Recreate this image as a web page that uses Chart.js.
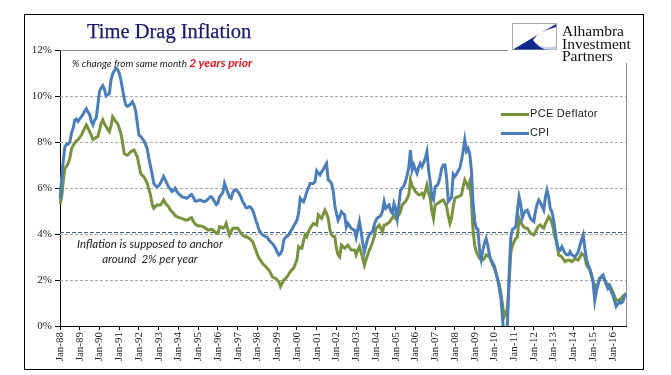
<!DOCTYPE html>
<html><head><meta charset="utf-8">
<script src="https://cdn.jsdelivr.net/npm/chart.js@4"></script>
<style>
html,body{margin:0;padding:0;background:#fff;}
#wrap{position:relative;width:671px;height:375px;overflow:hidden;}
#frame{position:absolute;left:24px;top:14px;width:618px;height:354px;border:1px solid #000;}
canvas{position:absolute;left:0;top:0;}
.t{position:absolute;white-space:nowrap;}
#title{left:87px;top:20px;font:20.5px "Liberation Serif",serif;color:#1a1a6e;-webkit-text-stroke:0.25px #1a1a6e;}
#sub{left:72px;top:55px;font:italic 10px Lato,sans-serif;color:#222;}
#sub b{color:#e0141e;font-size:12px;font-weight:bold;}
#note{left:58px;top:236px;width:184px;text-align:center;font:italic 11.5px Lato,sans-serif;color:#222;line-height:15px;}
.lg{position:absolute;font:11px "Liberation Sans",Arial,sans-serif;color:#222;letter-spacing:0.3px;}
.lgl{position:absolute;width:28px;height:3px;}
#logo{position:absolute;left:508px;top:19px;width:132px;height:44px;background:#fff;}
#logo svg{position:absolute;left:4px;top:4px;}
#logotxt{position:absolute;left:54px;top:6px;font:15.5px "Liberation Serif",serif;line-height:12.5px;color:#111;}
</style></head>
<body><div id="wrap">
<div id="frame"></div>
<canvas id="c" width="671" height="375"></canvas>
<div class="t" id="title">Time Drag Inflation</div>
<div class="t" id="sub">% change from same month <b>2 years prior</b></div>
<div class="t" id="note">Inflation is supposed to anchor<br>around&nbsp; 2% per year</div>
<div class="lgl" style="left:501px;top:113px;background:#77933c"></div>
<div class="lg" style="left:530px;top:107px">PCE Deflator</div>
<div class="lgl" style="left:501px;top:132px;background:#4a7ebb"></div>
<div class="lg" style="left:530px;top:126px">CPI</div>
<div id="logo">
<svg width="46" height="28" viewBox="0 0 46 28">
<rect x="0.5" y="0.5" width="44" height="26" fill="#fff" stroke="#aaa"/>
<path d="M1,26.5 L44,1 L44,4 Q26,9 21,17 Q25,24 38,26.5 Z" fill="#0d2a8c"/>
<path d="M24,22 Q33,26 44,23 L44,26.5 L33,26.5 Z" fill="#c5d2ee"/>
</svg>
<div id="logotxt">Alhambra<br>Investment<br>Partners</div>
</div>
</div>
<script>
// ---- data ----
const startYear = 1988;
const monthCount = 345; // Jan-88 .. Sep-16
const monthNames = ['Jan','Feb','Mar','Apr','May','Jun','Jul','Aug','Sep','Oct','Nov','Dec'];
const yTicks = [0, 2, 4, 6, 8, 10, 12];
const anchorLevel = 4.08;

const cpi = [
5.5,6.4,7.2,7.8,7.9,7.9,8.0,8.4,8.6,8.95,9.0,8.9,
9.0,9.1,9.2,9.35,9.45,9.3,9.2,8.9,8.75,8.95,9.05,9.6,
10.2,10.35,10.45,10.3,10.0,10.05,10.1,10.7,10.95,11.1,11.2,11.15,
11.0,10.7,10.3,9.9,9.6,9.55,9.6,9.65,9.75,9.6,9.35,8.8,
8.3,8.25,8.15,8.05,7.9,7.7,7.3,6.95,6.6,6.2,6.1,6.05,
6.1,6.2,6.35,6.5,6.35,6.2,6.05,5.95,5.85,5.9,5.99,5.85,
5.75,5.7,5.62,5.6,5.58,5.55,5.6,5.68,5.72,5.6,5.45,5.43,
5.45,5.48,5.45,5.42,5.41,5.45,5.52,5.6,5.62,5.52,5.4,5.28,
5.35,5.62,5.7,5.8,6.2,6.0,5.8,5.6,5.55,5.8,5.91,5.92,
5.85,5.75,5.6,5.41,5.3,5.15,5.14,5.19,5.15,5.05,4.85,4.6,
4.4,4.17,4.05,3.97,3.92,3.88,3.85,3.74,3.65,3.59,3.5,3.38,
3.2,3.09,3.15,3.3,3.74,3.85,3.9,3.96,4.1,4.2,4.35,4.46,
4.6,4.9,5.55,5.45,5.4,5.6,5.84,6.0,6.2,6.2,6.2,6.28,
6.75,6.65,6.57,6.7,6.8,6.95,7.07,6.35,6.3,6.2,5.9,5.25,
4.9,4.6,4.75,4.97,4.9,4.83,4.3,4.46,4.35,4.25,4.2,4.17,
3.85,4.2,4.54,4.1,3.6,3.23,3.52,3.8,3.96,4.05,4.1,4.4,
4.6,4.7,4.75,4.8,5.0,5.41,5.12,5.2,5.26,5.0,4.9,5.33,
5.12,4.68,5.3,5.91,6.0,6.1,6.28,6.57,6.9,7.65,6.78,7.0,
6.8,6.64,6.9,7.07,6.93,7.1,7.29,7.58,6.8,6.28,5.6,5.48,
6.06,6.1,6.2,6.5,6.86,7.0,7.0,6.42,5.41,5.5,5.6,6.6,
6.5,6.6,6.75,6.86,7.2,7.6,8.09,7.6,7.72,7.5,6.8,5.4,
4.6,4.25,4.2,3.3,2.9,3.3,3.6,3.8,3.5,3.1,2.85,2.75,
2.6,2.3,2.0,1.64,1.2,0.3,-0.6,-0.8,0.2,2.3,3.85,4.2,
4.25,4.32,5.0,5.62,5.3,4.7,4.9,5.0,5.04,4.85,4.68,4.6,
4.54,5.0,5.3,5.48,5.35,5.2,5.04,5.6,5.91,5.6,5.1,4.97,
4.6,4.1,3.5,3.35,3.3,3.45,3.3,3.16,3.1,3.09,3.23,3.1,
3.05,3.01,3.1,3.23,3.5,3.75,3.96,3.38,2.9,2.65,2.5,2.25,
1.9,1.1,1.5,1.8,2.07,2.15,2.22,2.0,1.8,1.64,1.75,1.5,
1.35,1.1,0.85,0.95,1.06,1.0,1.05,1.28,1.42
];

const pce = [
5.3,5.6,6.3,6.85,6.95,7.07,7.3,7.7,7.85,7.95,8.05,8.1,
8.2,8.3,8.45,8.6,8.74,8.6,8.45,8.3,8.1,8.15,8.2,8.23,
8.5,8.8,8.96,8.8,8.67,8.55,8.45,8.7,9.1,9.0,8.88,8.8,
8.6,8.38,8.0,7.5,7.45,7.43,7.5,7.58,7.62,7.65,7.5,7.36,
7.0,6.64,6.55,6.49,6.35,6.2,5.95,5.7,5.3,5.12,5.2,5.26,
5.26,5.26,5.35,5.48,5.35,5.25,5.19,5.05,4.97,4.9,4.8,4.75,
4.72,4.7,4.68,4.65,4.62,4.6,4.62,4.68,4.71,4.55,4.45,4.39,
4.35,4.36,4.34,4.32,4.28,4.22,4.17,4.18,4.2,4.17,4.1,4.05,
4.03,4.32,4.3,4.25,4.3,4.46,4.2,3.96,4.1,4.25,4.25,4.26,
4.25,4.15,4.03,3.95,3.9,3.88,3.85,3.81,3.75,3.67,3.5,3.3,
3.1,2.94,2.85,2.72,2.65,2.58,2.5,2.43,2.3,2.14,2.1,2.07,
2.0,1.93,1.71,1.85,2.0,2.05,2.14,2.25,2.36,2.45,2.51,2.7,
2.87,3.45,3.4,3.38,3.7,3.96,3.88,4.1,4.25,4.35,4.46,4.42,
4.39,4.83,4.75,4.68,4.85,5.04,4.9,4.68,4.2,3.96,3.9,3.88,
3.38,3.1,3.01,3.52,3.45,3.38,3.45,3.52,3.4,3.3,3.3,3.3,
3.09,3.3,3.45,3.2,2.94,2.65,2.9,3.09,3.3,3.45,3.65,3.88,
4.25,4.3,4.39,4.25,4.1,4.39,4.4,4.46,4.5,4.6,4.7,4.83,
4.68,4.75,4.83,5.0,5.26,5.35,5.41,5.55,5.7,6.35,6.1,5.99,
5.84,5.78,5.7,5.72,5.77,5.62,5.85,6.13,5.8,5.55,5.0,4.68,
5.26,5.3,5.35,5.41,5.45,5.48,5.35,5.19,4.8,4.46,4.7,5.2,
5.55,5.6,5.62,5.65,5.7,6.06,6.35,6.2,6.06,6.28,5.5,4.2,
3.52,3.23,3.1,2.94,2.9,2.87,2.95,3.09,3.05,3.01,2.85,2.65,
2.51,2.3,2.07,1.8,1.4,0.9,0.41,0.55,0.77,1.93,3.2,3.5,
3.67,3.8,3.88,4.68,4.5,4.39,4.3,4.25,4.25,4.15,4.03,4.0,
3.96,4.1,4.25,4.35,4.39,4.3,4.25,4.45,4.6,4.75,4.65,4.5,
4.17,3.8,3.67,3.09,3.05,3.01,2.9,2.8,2.85,2.87,2.85,2.8,
2.85,2.94,2.9,2.87,3.0,3.16,3.1,3.01,2.65,2.55,2.43,2.2,
1.95,1.78,1.64,1.85,2.07,2.1,2.14,2.0,1.86,1.82,1.78,1.65,
1.49,1.3,1.13,1.12,1.13,1.2,1.28,1.35,1.42
];

const categories = [];
for (let i = 0; i < monthCount; i++) {
  const y = startYear + Math.floor(i / 12);
  categories.push(monthNames[i % 12] + '-' + String(y).slice(2));
}

const gridPlugin = {
  id: 'gridPlugin',
  beforeDatasetsDraw(chart) {
    const {ctx, chartArea: a, scales: {y}} = chart;
    ctx.save();
    ctx.lineWidth = 1;
    yTicks.forEach(v => {
      if (v === 0) return;
      const py = Math.round(y.getPixelForValue(v)) + 0.5;
      ctx.strokeStyle = v === 12 ? '#8c8c8c' : '#a8a8a8';
      ctx.setLineDash(v === 12 ? [] : [3, 2]);
      ctx.beginPath(); ctx.moveTo(a.left, py); ctx.lineTo(a.right, py); ctx.stroke();
    });
    ctx.setLineDash([]);
    ctx.strokeStyle = '#8c8c8c';
    ctx.beginPath(); ctx.moveTo(Math.round(a.right) + 0.5, a.top); ctx.lineTo(Math.round(a.right) + 0.5, a.bottom); ctx.stroke();
    const ay = Math.round(y.getPixelForValue(anchorLevel)) + 0.5;
    ctx.strokeStyle = '#3d5f8f';
    ctx.setLineDash([4, 2]);
    ctx.beginPath(); ctx.moveTo(a.left, ay); ctx.lineTo(a.right, ay); ctx.stroke();
    ctx.restore();
  }
};

new Chart(document.getElementById('c'), {
  type: 'line',
  data: {
    labels: categories,
    datasets: [
      {label: 'CPI', data: cpi, borderColor: '#4a7ebb', borderWidth: 3, pointRadius: 0, tension: 0, fill: false},
      {label: 'PCE Deflator', data: pce, borderColor: '#77933c', borderWidth: 3, pointRadius: 0, tension: 0, fill: false}
    ]
  },
  options: {
    responsive: false,
    animation: false,
    events: [],
    layout: {padding: {left: 0, right: 45, top: 50, bottom: 0}},
    plugins: {legend: {display: false}, tooltip: {enabled: false}},
    scales: {
      x: {
        type: 'category',
        offset: false,
        afterFit(s) { s.height = 49; },
        grid: {drawOnChartArea: false, drawTicks: true, tickLength: 4, color: '#000', lineWidth: 1},
        border: {color: '#000', width: 1},
        ticks: {
          autoSkip: false, maxRotation: 90, minRotation: 90, padding: 2,
          color: '#222', font: {family: 'Liberation Serif', size: 11},
          callback(v) { const l = this.getLabelForValue(v); return l.startsWith('Jan') ? l : null; }
        }
      },
      y: {
        min: 0, max: 12,
        afterFit(s) { s.width = 60; },
        grid: {drawOnChartArea: false, drawTicks: true, tickLength: 5, color: '#000', lineWidth: 1},
        border: {color: '#000', width: 1},
        ticks: {
          stepSize: 2, padding: 3, color: '#222',
          font: {family: 'Liberation Serif', size: 11},
          callback(v) { return v + '%'; }
        }
      }
    }
  },
  plugins: [gridPlugin]
});
</script>
</body></html>
